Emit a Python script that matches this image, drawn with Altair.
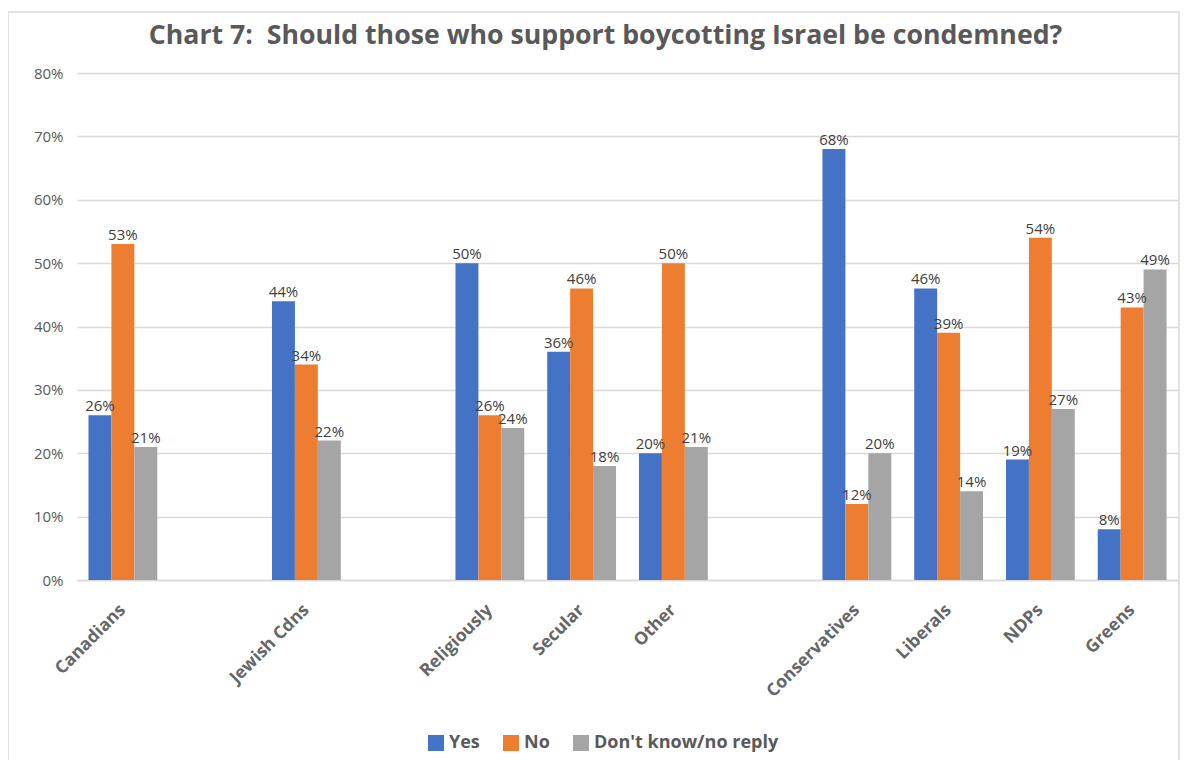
import altair as alt
import pandas as pd

slots = ["Canadians", " ", "Jewish Cdns", "  ", "Religiously", "Secular", "Other", "   ",
         "Conservatives", "Liberals", "NDPs", "Greens"]
groups = ["Canadians", "Jewish Cdns", "Religiously", "Secular", "Other",
          "Conservatives", "Liberals", "NDPs", "Greens"]
series_names = ["Yes", "No", "Don't know/no reply"]
yes_vals = [26, 44, 50, 36, 20, 68, 46, 19, 8]
no_vals = [53, 34, 26, 46, 50, 12, 39, 54, 43]
dk_vals = [21, 22, 24, 18, 21, 20, 14, 27, 49]
colors = ["#4472C4", "#ED7D31", "#A5A5A5"]
y_ticks = [0, 10, 20, 30, 40, 50, 60, 70, 80]
title_text = "Chart 7:\u00a0 Should those who support boycotting Israel be condemned?"

rows = []
for s, vals in zip(series_names, [yes_vals, no_vals, dk_vals]):
    for g, v in zip(groups, vals):
        rows.append({"group": g, "series": s, "value": v, "label": f"{v}%"})
df = pd.DataFrame(rows)

FONT = "Open Sans"
GREY = "#595959"

x_enc = alt.X("group:N",
              scale=alt.Scale(domain=slots, paddingInner=0.25, paddingOuter=0.125),
              axis=alt.Axis(title=None, labelAngle=-45, labelAlign="right",
                            labelBaseline="middle", labelPadding=27, labelFontSize=17.5,
                            labelFont=FONT, labelFontWeight="bold", labelColor="#666666",
                            ticks=False, domainColor="#d9d9d9", domainWidth=1.5,
                            grid=False, labelLimit=0))
xo_enc = alt.XOffset("series:N", scale=alt.Scale(domain=series_names))
y_enc = alt.Y("value:Q",
              scale=alt.Scale(domain=[0, 80], nice=False),
              axis=alt.Axis(title=None, values=y_ticks, labelExpr="datum.value + '%'",
                            labelFontSize=15, labelFont=FONT, labelColor=GREY,
                            labelPadding=14, ticks=False, domain=False,
                            gridColor="#d9d9d9", gridWidth=1.5))

base = alt.Chart(df).encode(x=x_enc, xOffset=xo_enc, y=y_enc)

bars = base.mark_bar().encode(
    color=alt.Color("series:N",
                    scale=alt.Scale(domain=series_names, range=colors),
                    legend=alt.Legend(title=None, orient="none", direction="horizontal",
                                      legendX=350, legendY=661, symbolType="square",
                                      symbolSize=256, symbolStrokeWidth=0,
                                      labelFontSize=18, labelFont=FONT,
                                      labelFontWeight="bold", labelColor=GREY,
                                      labelOffset=4, columnPadding=22, labelLimit=0))
)

texts = base.mark_text(baseline="alphabetic", dy=-4, fontSize=15, font=FONT,
                       color="#404040").encode(text="label:N")

frame = alt.Chart(pd.DataFrame({"k": [0]})).mark_rect(
    fill=None, stroke="#d9d9d9", strokeWidth=1.5
).encode(x=alt.value(-69), x2=alt.value(1102), y=alt.value(-61), y2=alt.value(697))

chart = alt.layer(frame, bars, texts).properties(
    width=1101, height=507,
    padding={"left": 69, "top": 65, "right": 2, "bottom": 180},
    autosize=alt.AutoSizeParams(type="none"),
    title=alt.TitleParams(text=title_text,
                          fontSize=26.7, font=FONT, fontWeight="bold", color=GREY,
                          anchor="middle", frame="group", offset=0, dy=38, dx=-22),
).configure_view(stroke=None)

chart.save("out.html", embed_options={"renderer": "svg", "actions": False})
